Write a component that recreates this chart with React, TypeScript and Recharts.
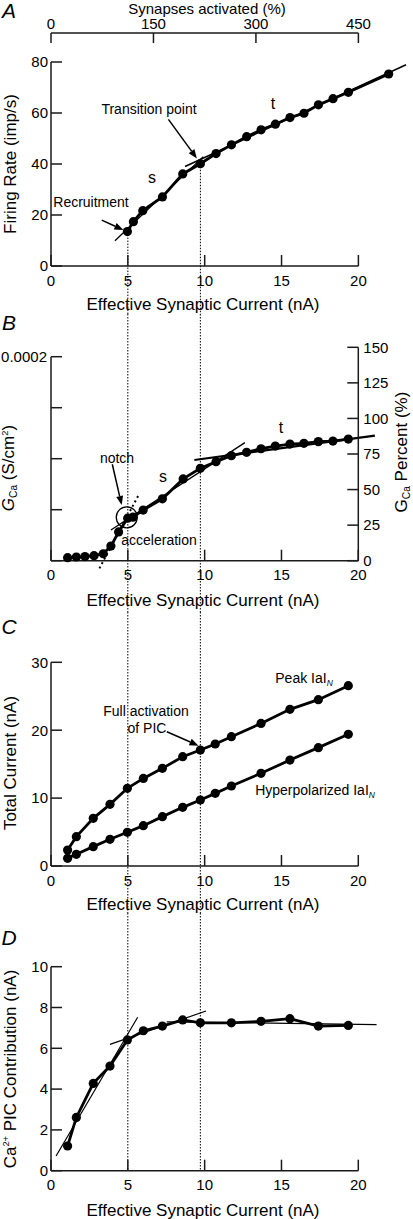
import React from 'react';
import { LineChart, Line, XAxis, YAxis, ReferenceLine, ReferenceDot } from 'recharts';

// Panel A: firing rate vs effective synaptic current
const aCurrent = [4.97, 5.36, 5.97, 7.25, 8.57, 9.72, 10.74, 11.74, 12.73, 13.67, 14.6, 15.55, 16.46, 17.4, 18.35, 19.35, 21.97];
const aRate = [13.5, 17.4, 21.7, 27.1, 36.1, 40.1, 44.1, 47.5, 50.7, 53.4, 55.6, 58.2, 59.9, 63.2, 65.6, 68.1, 75.3];
const aRateTicks = [0, 20, 40, 60, 80];
const synapseTicks = [0, 150, 300, 450];
const aFitS = [[4.16, 9.9], [9.91, 42.9]];
const aFitT = [[8.72, 39.0], [23.1, 78.9]];

// Panel B: G_Ca (as percent)
const bCurrent = [1.08, 1.65, 2.21, 2.8, 3.4, 3.9, 4.4, 4.99, 5.33, 6.0, 7.25, 8.6, 9.72, 10.74, 11.74, 12.73, 13.67, 14.6, 15.55, 16.46, 17.4, 18.35, 19.35];
const bPercent = [2.1, 2.6, 2.9, 3.5, 4.9, 10.3, 20.2, 29.9, 30.6, 35.6, 43.5, 57.5, 64.9, 69.6, 73.8, 76.2, 78.7, 80.6, 82.0, 82.5, 83.7, 84.1, 85.5];
const bPercentTicks = [0, 25, 50, 75, 100, 125, 150];
const bGcaTicks = [0, 0.00005, 0.0001, 0.00015, 0.0002];
const bFitAccel = [[3.15, -5.4], [5.68, 45.7]];
const bFitS = [[3.9, 21.6], [12.62, 83.0]];
const bFitT = [[9.33, 70.8], [21.08, 87.9]];

// Panel C: total current
const cCurrent = [1.08, 1.65, 2.75, 3.84, 4.97, 6.01, 7.25, 8.57, 9.72, 10.69, 11.74, 13.67, 15.55, 17.4, 19.35];
const cPeak = [2.36, 4.32, 7.02, 9.08, 11.44, 12.9, 14.38, 16.1, 17.08, 17.97, 19.05, 21.0, 23.07, 24.5, 26.56];
const cHyper = [1.13, 1.72, 2.85, 3.93, 4.96, 5.94, 7.27, 8.64, 9.72, 10.7, 11.78, 13.65, 15.6, 17.43, 19.39];
const cTicks = [0, 10, 20, 30];

// Panel D: Ca2+ PIC contribution
const dCurrent = [1.08, 1.65, 2.75, 3.84, 4.97, 6.01, 7.25, 8.57, 9.72, 11.74, 13.67, 15.55, 17.4, 19.35];
const dPic = [1.21, 2.61, 4.28, 5.13, 6.41, 6.86, 7.09, 7.39, 7.25, 7.25, 7.32, 7.45, 7.09, 7.12];
const dTicks = [0, 2, 4, 6, 8, 10];
const dFits = [
  [[0.33, 0.72], [5.64, 7.52]],
  [[3.84, 6.19], [10.09, 7.83]],
  [[7.53, 7.3], [21.19, 7.16]],
];

const xTicks = [0, 5, 10, 15, 20];
const guideX = [5, 9.72];
const guideStartA = [13.5, 40.1];
const pctPerNa = 22.5; // 450 % of synapses at 20 nA

const aData = aCurrent.map((x, i) => ({ x, y: aRate[i] }));
const bData = bCurrent.map((x, i) => ({ x, y: bPercent[i] }));
const cData = cCurrent.map((x, i) => ({ x, peak: cPeak[i], hyper: cHyper[i] }));
const dData = dCurrent.map((x, i) => ({ x, y: dPic[i] }));

const FONT = '"Liberation Sans", Arial, Helvetica, sans-serif';
const AX = '#1a1a1a';
const tickStyle = { fill: '#000', fontSize: 15, fontFamily: FONT };
const axisLine = { stroke: AX, strokeWidth: 1.5 };
const tickLine = { stroke: AX, strokeWidth: 1.5 };
const dot = { r: 4.6, fill: '#000', stroke: '#000', strokeWidth: 0 };

const W = 413;
const HA = 314, HB = 298, HC = 301, HD = 306;

function arrowShape(p: any) {
  const { x1, y1, x2, y2 } = p;
  const ang = Math.atan2(y2 - y1, x2 - x1);
  const len = 9, half = 3.5;
  const bx = x2 - len * Math.cos(ang);
  const by = y2 - len * Math.sin(ang);
  const nx = -Math.sin(ang) * half;
  const ny = Math.cos(ang) * half;
  return (
    <g>
      <line x1={x1} y1={y1} x2={bx} y2={by} stroke="#000" strokeWidth={1.5} />
      <polygon points={`${x2},${y2} ${bx + nx},${by + ny} ${bx - nx},${by - ny}`} fill="#000" />
    </g>
  );
}

// dotted guide lines running through all four panels
const guide = (mode: 'fromPoint' | 'full' | 'toAxis', h: number) => (p: any) => (
  <line
    x1={p.x1}
    x2={p.x1}
    y1={mode === 'fromPoint' ? p.y1 : 0}
    y2={mode === 'toAxis' ? p.y2 : h}
    stroke="#000"
    strokeWidth={1}
    strokeDasharray="1.5 1.5"
  />
);

const seg = (s: number[][]) => s.map(([x, y]) => ({ x, y }));

function Txt({ x, y, size = 14, rotate = false, italic = false, children }: any) {
  return (
    <div
      style={{
        position: 'absolute',
        left: x,
        top: y,
        transform: `translate(-50%, -50%)${rotate ? ' rotate(-90deg)' : ''}`,
        fontSize: size,
        fontFamily: FONT,
        fontStyle: italic ? 'italic' : 'normal',
        whiteSpace: 'nowrap',
        lineHeight: 1,
        color: '#000',
        pointerEvents: 'none',
      }}
    >
      {children}
    </div>
  );
}

const Sub = ({ children, italic = false }: any) => (
  <span style={{ fontSize: '0.6em', verticalAlign: '-0.3em', fontStyle: italic ? 'italic' : 'normal', color: '#000' }}>{children}</span>
);
const Sup = ({ children }: any) => (
  <span style={{ fontSize: '0.55em', verticalAlign: '0.7em' }}>{children}</span>
);

const xTitle = 'Effective Synaptic Current (nA)';

export default function App() {
  return (
    <div style={{ position: 'absolute', left: 0, top: 0, width: W, height: 1219, background: '#fff', overflow: 'hidden' }}>
      {/* A */}
      <div style={{ position: 'absolute', left: 0, top: 0 }}>
        <LineChart width={W} height={HA} data={aData} margin={{ top: 0, right: 8.5, bottom: 0, left: 0 }}>
          <XAxis dataKey="x" type="number" domain={[0, 23]} ticks={xTicks} interval={0} height={48}
            axisLine={false} tickLine={tickLine} tickSize={-11} tickMargin={20} tick={tickStyle} />
          <XAxis xAxisId="top" orientation="top" type="number" dataKey={(d: any) => d.x * pctPerNa}
            domain={[0, 23 * pctPerNa]} allowDataOverflow ticks={synapseTicks} interval={0}
            height={33} axisLine={false} tickLine={tickLine} tickSize={-10} tickMargin={14} tick={tickStyle} />
          <YAxis type="number" domain={[0, 91.37]} allowDataOverflow ticks={aRateTicks} interval={0} width={51}
            axisLine={false} tickLine={tickLine} tickSize={-11} tickMargin={14} tick={tickStyle} />
          <ReferenceLine segment={seg([[0, 0], [20, 0]])} stroke={AX} strokeWidth={1.5} ifOverflow="visible" />
          <ReferenceLine segment={seg([[0, 0], [0, 80]])} stroke={AX} strokeWidth={1.5} ifOverflow="visible" />
          <ReferenceLine segment={seg([[0, 91.37], [20, 91.37]])} stroke={AX} strokeWidth={1.5} ifOverflow="visible" />
          {guideX.map((gx, i) => (
            <ReferenceLine key={'g' + i} segment={seg([[gx, guideStartA[i]], [gx, 0]])} ifOverflow="visible" shape={guide('fromPoint', HA)} />
          ))}
          <ReferenceLine segment={seg(aFitS)} stroke="#000" strokeWidth={1.3} ifOverflow="visible" />
          <ReferenceLine segment={seg(aFitT)} stroke="#000" strokeWidth={1.5} ifOverflow="visible" />
          <ReferenceLine segment={seg([[3.3, 18.0], [4.71, 14.1]])} ifOverflow="visible" shape={arrowShape} />
          <ReferenceLine segment={seg([[7.64, 57.5], [9.49, 42.2]])} ifOverflow="visible" shape={arrowShape} />
          <Line dataKey="y" stroke="#000" strokeWidth={2.8} dot={dot} isAnimationActive={false} />
        </LineChart>
      </div>

      {/* B */}
      <div style={{ position: 'absolute', left: 0, top: 314 }}>
        <LineChart width={W} height={HB} data={bData} margin={{ top: 33.3, right: 4.7, bottom: 0, left: 0 }}>
          <XAxis dataKey="x" type="number" domain={[0, 20]} ticks={xTicks} interval={0} height={51.3}
            axisLine={axisLine} tickLine={tickLine} tickSize={-11} tickMargin={20} tick={tickStyle} />
          <YAxis yAxisId="g" type="number" domain={[0, 0.00020922]} allowDataOverflow ticks={bGcaTicks} interval={0} width={51}
            tickFormatter={(v: number) => (Math.abs(v - 0.0002) < 1e-9 ? '0.0002' : '')}
            axisLine={false} tickLine={tickLine} tickSize={-11} tickMargin={15} tick={tickStyle} />
          <YAxis yAxisId="pct" orientation="right" type="number" domain={[0, 150]} ticks={bPercentTicks} interval={0} width={50}
            axisLine={axisLine} tickLine={tickLine} tickSize={-11} tickMargin={16} tick={tickStyle} />
          <ReferenceLine yAxisId="g" segment={seg([[0, 0], [0, 0.0002]])} stroke={AX} strokeWidth={1.5} ifOverflow="visible" />
          {guideX.map((gx, i) => (
            <ReferenceLine key={'g' + i} yAxisId="pct" segment={seg([[gx, 0], [gx, 150]])} ifOverflow="visible" shape={guide('full', HB)} />
          ))}
          <ReferenceLine yAxisId="pct" segment={seg(bFitAccel)} stroke="#000" strokeWidth={2} strokeDasharray="2 3" ifOverflow="visible" />
          <ReferenceLine yAxisId="pct" segment={seg(bFitS)} stroke="#000" strokeWidth={1.3} ifOverflow="visible" />
          <ReferenceLine yAxisId="pct" segment={seg(bFitT)} stroke="#000" strokeWidth={2.2} ifOverflow="visible" />
          <ReferenceLine yAxisId="pct" segment={seg([[3.99, 67.8], [4.6, 39.1]])} ifOverflow="visible" shape={arrowShape} />
          <ReferenceDot yAxisId="pct" x={4.93} y={30.5} r={10.5} fill="none" stroke="#000" strokeWidth={1.3} ifOverflow="visible" />
          <Line yAxisId="pct" dataKey="y" stroke="#000" strokeWidth={2.8} dot={dot} isAnimationActive={false} />
        </LineChart>
      </div>

      {/* C */}
      <div style={{ position: 'absolute', left: 0, top: 612 }}>
        <LineChart width={W} height={HC} data={cData} margin={{ top: 50.3, right: 54.7, bottom: 0, left: 0 }}>
          <XAxis dataKey="x" type="number" domain={[0, 20]} ticks={xTicks} interval={0} height={47}
            axisLine={axisLine} tickLine={tickLine} tickSize={-11} tickMargin={20} tick={tickStyle} />
          <YAxis type="number" domain={[0, 30]} ticks={cTicks} interval={0} width={51}
            axisLine={axisLine} tickLine={tickLine} tickSize={-11} tickMargin={14} tick={tickStyle} />
          {guideX.map((gx, i) => (
            <ReferenceLine key={'g' + i} segment={seg([[gx, 0], [gx, 30]])} ifOverflow="visible" shape={guide('full', HC)} />
          ))}
          <ReferenceLine segment={seg([[7.54, 19.78], [9.6, 17.72]])} ifOverflow="visible" shape={arrowShape} />
          <Line dataKey="peak" stroke="#000" strokeWidth={2.8} dot={dot} isAnimationActive={false} />
          <Line dataKey="hyper" stroke="#000" strokeWidth={2.8} dot={dot} isAnimationActive={false} />
        </LineChart>
      </div>

      {/* D */}
      <div style={{ position: 'absolute', left: 0, top: 913 }}>
        <LineChart width={W} height={HD} data={dData} margin={{ top: 53.7, right: 54.7, bottom: 0, left: 0 }}>
          <XAxis dataKey="x" type="number" domain={[0, 20]} ticks={xTicks} interval={0} height={48.3}
            axisLine={axisLine} tickLine={tickLine} tickSize={-11} tickMargin={20} tick={tickStyle} />
          <YAxis type="number" domain={[0, 10]} ticks={dTicks} interval={0} width={51}
            axisLine={axisLine} tickLine={tickLine} tickSize={-11} tickMargin={14} tick={tickStyle} />
          {guideX.map((gx, i) => (
            <ReferenceLine key={'g' + i} segment={seg([[gx, 10], [gx, 0]])} ifOverflow="visible" shape={guide('toAxis', HD)} />
          ))}
          {dFits.map((f, i) => (
            <ReferenceLine key={'f' + i} segment={seg(f)} stroke="#000" strokeWidth={1.2} ifOverflow="visible" />
          ))}
          <Line dataKey="y" stroke="#000" strokeWidth={2.8} dot={dot} isAnimationActive={false} />
        </LineChart>
      </div>

      {/* panel letters */}
      <Txt x={9} y={10} size={21} italic>A</Txt>
      <Txt x={9} y={322} size={21} italic>B</Txt>
      <Txt x={9} y={626} size={21} italic>C</Txt>
      <Txt x={9} y={937} size={21} italic>D</Txt>

      {/* axis titles */}
      <Txt x={207} y={8} size={15}>Synapses activated (%)</Txt>
      <Txt x={10} y={164} size={17} rotate>Firing Rate (imp/s)</Txt>
      <Txt x={203} y={304} size={17}>{xTitle}</Txt>
      <Txt x={10} y={468} size={17} rotate><i>G</i><Sub>Ca</Sub> (S/cm<Sup>2</Sup>)</Txt>
      <Txt x={403} y={452} size={17} rotate>G<Sub>Ca</Sub> Percent (%)</Txt>
      <Txt x={203} y={600} size={17}>{xTitle}</Txt>
      <Txt x={10} y={763} size={17} rotate>Total Current (nA)</Txt>
      <Txt x={203} y={904} size={17}>{xTitle}</Txt>
      <Txt x={10} y={1069} size={17} rotate>Ca<Sup>2+</Sup> PIC Contribution (nA)</Txt>
      <Txt x={203} y={1210} size={17}>{xTitle}</Txt>

      {/* annotations */}
      <Txt x={91} y={202}>Recruitment</Txt>
      <Txt x={149} y={109}>Transition point</Txt>
      <Txt x={152} y={178} size={16}>s</Txt>
      <Txt x={273} y={104} size={16}>t</Txt>
      <Txt x={117} y={458}>notch</Txt>
      <Txt x={159} y={540}>acceleration</Txt>
      <Txt x={163} y={477} size={16}>s</Txt>
      <Txt x={281} y={428} size={16}>t</Txt>
      <Txt x={304} y={679}>Peak IaI<Sub italic>N</Sub></Txt>
      <Txt x={146} y={711}>Full activation</Txt>
      <Txt x={147} y={728}>of PIC</Txt>
      <Txt x={315} y={791}>Hyperpolarized IaI<Sub italic>N</Sub></Txt>
    </div>
  );
}
